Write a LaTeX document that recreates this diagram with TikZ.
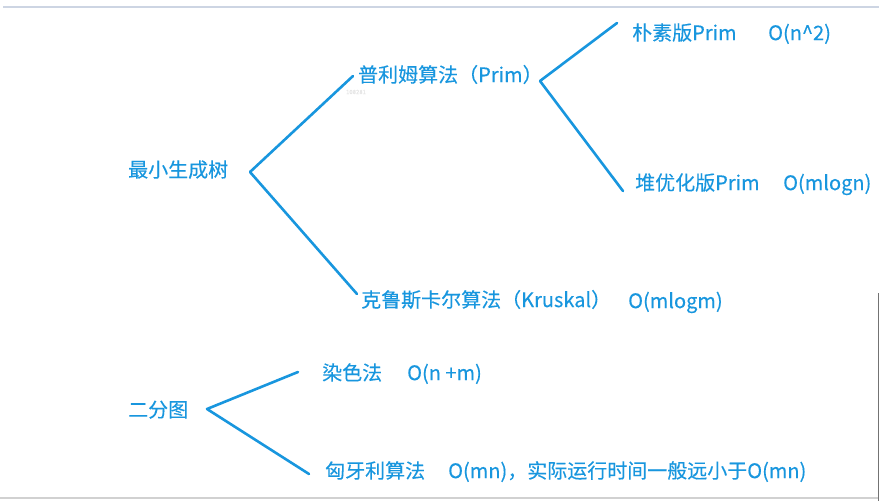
\documentclass[tikz,border=0pt]{standalone}
\usepackage{fontspec}
\newfontfamily\cjk{Noto Sans CJK SC}[FakeBold=0.2]
\usepackage{tikz}
\usetikzlibrary{positioning}
\definecolor{penblue}{RGB}{24,150,222}
\definecolor{framegray}{RGB}{205,213,227}

\begin{document}
\begin{tikzpicture}[x=1pt,y=-1pt,
    txt/.style={anchor=west,inner sep=0pt,text=penblue,
      font=\cjk\fontsize{20}{21}\selectfont,text height=1.02em,text depth=0pt},
    branch/.style={draw=penblue,line width=2.6pt,line cap=round,line join=round}]
  \useasboundingbox (0,0) rectangle (879,501);
  % screenshot frame
  \draw[framegray,line width=2.5pt] (3,7) -- (879,7);
  \draw[black!18,line width=2pt] (0,498) -- (879,498);
  \draw[black!55,line width=1.2pt] (878.4,293) -- (878.4,501);
  % minimum spanning tree
  \node[txt] (mst) at (128,172) {最小生成树};
  \node[txt] (prim) at (358,77) {普利姆算法（Prim）};
  \node[txt] (naive) at (632,35) {朴素版Prim};
  \node[txt] (naive cost) at (768,35) {O(n\textasciicircum2)};
  \node[txt] (heap) at (635,185) {堆优化版Prim};
  \node[txt] (heap cost) at (783,185) {O(mlogn)};
  \node[txt] (kruskal) at (361,302) {克鲁斯卡尔算法（Kruskal）};
  \node[txt] (kruskal cost) at (628,303) {O(mlogm)};
  \node[font=\cjk\fontsize{6}{6}\selectfont,text=black!10,inner sep=0pt] (mark) at (356,92) {108281};
  \coordinate (mst fork) at (250,172);
  \coordinate (prim fork) at (540,81);
  \draw[branch] ([xshift=-5pt,yshift=1pt]prim.west) -- (mst fork)
    -- ([xshift=-4pt,yshift=8pt]kruskal.west);
  \draw[branch] ([xshift=-15pt,yshift=12pt]naive.west) -- (prim fork)
    -- ([xshift=-12pt,yshift=-6pt]heap.west);
  % bipartite graph
  \node[txt] (bip) at (128,412) {二分图};
  \node[txt] (coloring) at (322,375) {染色法};
  \node[txt] (coloring cost) at (407,375) {O(n +m)};
  \node[txt] (hungary) at (325,473) {匈牙利算法};
  \node[txt] (hungary cost) at (448,473) {O(mn)，实际运行时间一般远小于O(mn)};
  \coordinate (bip fork) at (207,409);
  \draw[branch] ([xshift=-24pt,yshift=3pt]coloring.west) -- (bip fork)
    -- ([xshift=-16pt,yshift=-1pt]hungary.west);
\end{tikzpicture}
\end{document}
